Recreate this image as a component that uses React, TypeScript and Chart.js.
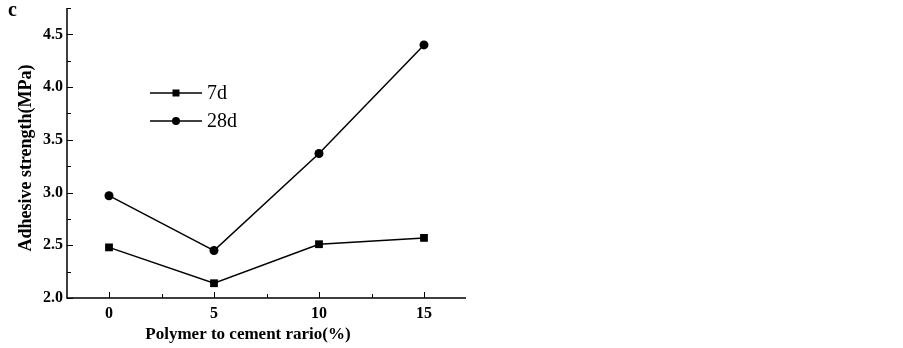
import React, { useEffect, useRef } from "react";
import { Chart, registerables } from "chart.js";

Chart.register(...registerables);

const ratios = [0, 5, 10, 15];
const strength7d = [2.48, 2.14, 2.51, 2.57];
const strength28d = [2.97, 2.45, 3.37, 4.4];
const xTicks = [0, 5, 10, 15];
const yTicks = [2.0, 2.5, 3.0, 3.5, 4.0, 4.5];
const seriesNames = ["7d", "28d"];

const SERIF = "'Liberation Serif', 'Times New Roman', serif";

const inwardTicks = {
  id: "inwardTicks",
  afterDraw(chart: any) {
    const { ctx, chartArea, scales } = chart;
    const x = scales.x;
    const y = scales.y;
    ctx.save();
    ctx.strokeStyle = "#000";
    ctx.lineWidth = 1.5;
    ctx.beginPath();
    ctx.moveTo(chartArea.left, chartArea.top);
    ctx.lineTo(chartArea.left, chartArea.bottom);
    ctx.lineTo(chartArea.right, chartArea.bottom);
    ctx.stroke();
    ctx.lineWidth = 1;
    for (let v = 0; v <= 15; v += 2.5) {
      const px = Math.round(x.getPixelForValue(v)) + 0.5;
      const len = v % 5 === 0 ? 6 : 4;
      ctx.beginPath();
      ctx.moveTo(px, chartArea.bottom);
      ctx.lineTo(px, chartArea.bottom - len);
      ctx.stroke();
    }
    for (let v = 2.0; v <= 4.75 + 1e-9; v += 0.25) {
      const py = Math.round(y.getPixelForValue(v)) + 0.5;
      const major = Math.abs(v * 2 - Math.round(v * 2)) < 1e-6;
      const len = major ? 6 : 4;
      ctx.beginPath();
      ctx.moveTo(chartArea.left, py);
      ctx.lineTo(chartArea.left + len, py);
      ctx.stroke();
    }
    ctx.fillStyle = "#000";
    ctx.font = `bold 17px ${SERIF}`;
    ctx.textAlign = "center";
    ctx.textBaseline = "alphabetic";
    ctx.fillText("Polymer to cement rario(%)", 248, 339);
    ctx.save();
    ctx.translate(31, 158);
    ctx.rotate(-Math.PI / 2);
    ctx.font = `bold 18px ${SERIF}`;
    ctx.fillText("Adhesive strength(MPa)", 0, 0);
    ctx.restore();
    ctx.font = `bold 20px ${SERIF}`;
    ctx.textAlign = "left";
    ctx.fillText("c", 8, 16);
    const items = [
      { name: seriesNames[0], style: "rect", r: 3.5, y: 93 },
      { name: seriesNames[1], style: "circle", r: 4, y: 121 },
    ];
    ctx.font = `20px ${SERIF}`;
    ctx.textBaseline = "middle";
    items.forEach((it) => {
      ctx.lineWidth = 1.5;
      ctx.beginPath();
      ctx.moveTo(150, it.y);
      ctx.lineTo(202, it.y);
      ctx.stroke();
      ctx.beginPath();
      if (it.style === "rect") {
        ctx.fillRect(176 - it.r, it.y - it.r, it.r * 2, it.r * 2);
      } else {
        ctx.arc(176, it.y, it.r, 0, Math.PI * 2);
        ctx.fill();
      }
      ctx.fillText(it.name, 207, it.y + 1);
    });
    ctx.restore();
  },
};

export default function App() {
  const ref = useRef<HTMLCanvasElement>(null);
  useEffect(() => {
    document.body.style.margin = "0";
    const chart = new Chart(ref.current!, {
      type: "line",
      data: {
        datasets: [
          {
            label: seriesNames[0],
            data: ratios.map((r, i) => ({ x: r, y: strength7d[i] })),
            borderColor: "#000",
            backgroundColor: "#000",
            borderWidth: 1.5,
            pointStyle: "rect",
            pointRadius: 5.5,
            pointBorderWidth: 0,
          },
          {
            label: seriesNames[1],
            data: ratios.map((r, i) => ({ x: r, y: strength28d[i] })),
            borderColor: "#000",
            backgroundColor: "#000",
            borderWidth: 1.5,
            pointStyle: "circle",
            pointRadius: 4.5,
            pointBorderWidth: 0,
          },
        ],
      },
      options: {
        animation: false,
        responsive: false,
        layout: { padding: { left: 0, top: 8, right: 437, bottom: 0 } },
        plugins: { legend: { display: false }, tooltip: { enabled: false } },
        scales: {
          x: {
            type: "linear",
            min: -2,
            max: 17,
            afterBuildTicks: (s: any) => {
              s.ticks = xTicks.map((v) => ({ value: v }));
            },
            afterFit: (s: any) => {
              s.height = 50;
              s.paddingLeft = 0;
              s.paddingRight = 0;
            },
            grid: { display: false, drawTicks: false },
            border: { display: false },
            ticks: {
              color: "#000",
              padding: 6,
              font: { family: SERIF, size: 16, weight: "bold" },
            },
          },
          y: {
            type: "linear",
            min: 2.0,
            max: 4.75,
            afterBuildTicks: (s: any) => {
              s.ticks = yTicks.map((v) => ({ value: v }));
            },
            afterFit: (s: any) => {
              s.width = 67;
              s.paddingTop = 0;
              s.paddingBottom = 0;
            },
            grid: { display: false, drawTicks: false },
            border: { display: false },
            ticks: {
              color: "#000",
              padding: 4,
              font: { family: SERIF, size: 16, weight: "bold" },
              callback: (v: any) => Number(v).toFixed(1),
            },
          },
        },
      },
      plugins: [inwardTicks],
    });
    return () => chart.destroy();
  }, []);
  return (
    <div style={{ width: 903, height: 348, background: "#fff" }}>
      <canvas ref={ref} width={903} height={348} />
    </div>
  );
}
